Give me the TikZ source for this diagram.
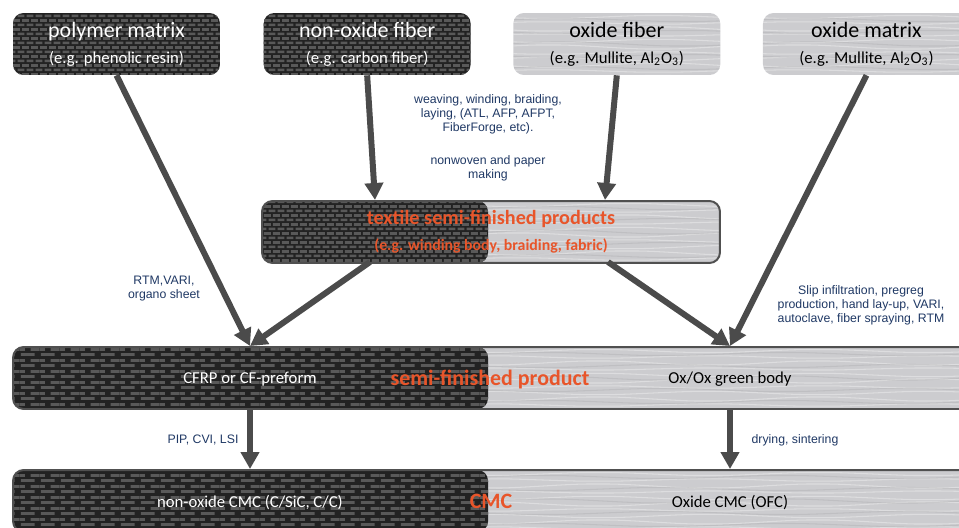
\documentclass[tikz,border=0pt]{standalone}
\usepackage{fontspec}
\setmainfont{Carlito}
\newfontfamily\arialfont{Liberation Sans}
\usetikzlibrary{arrows.meta, positioning, patterns, calc}
\definecolor{cmcdark}{HTML}{222222}
\definecolor{cmcweave}{HTML}{595959}
\definecolor{cmclight}{HTML}{CCCCCF}
\definecolor{cmcedge}{HTML}{505050}
\definecolor{cmcarrow}{HTML}{4B4B4B}
\definecolor{cmcorange}{HTML}{E8552A}
\definecolor{cmcnavy}{HTML}{1F3864}

% carbon weave, small and large
\pgfdeclarepatternformonly{weavefine}{\pgfpointorigin}{\pgfqpoint{5.1pt}{5.3pt}}{\pgfqpoint{5.1pt}{5.3pt}}{%
  \pgfpathrectangle{\pgfqpoint{0.3pt}{0.5pt}}{\pgfqpoint{3.9pt}{1.6pt}}%
  \pgfpathrectangle{\pgfqpoint{2.85pt}{3.15pt}}{\pgfqpoint{2.25pt}{1.6pt}}%
  \pgfpathrectangle{\pgfqpoint{0pt}{3.15pt}}{\pgfqpoint{1.65pt}{1.6pt}}%
  \pgfusepath{fill}}
\pgfdeclarepatternformonly{weavebig}{\pgfpointorigin}{\pgfqpoint{11.3pt}{6pt}}{\pgfqpoint{11.3pt}{6pt}}{%
  \pgfpathrectangle{\pgfqpoint{0.5pt}{0.6pt}}{\pgfqpoint{7.9pt}{1.7pt}}%
  \pgfpathrectangle{\pgfqpoint{6.15pt}{3.6pt}}{\pgfqpoint{5.15pt}{1.7pt}}%
  \pgfpathrectangle{\pgfqpoint{0pt}{3.6pt}}{\pgfqpoint{2.75pt}{1.7pt}}%
  \pgfusepath{fill}}

% brushed oxide fibres
\newcommand\fiberstreaks{%
  \foreach \k/\a in {4/1.5,10/-1.2,16/2,22/-1,28/1.6,34/-2,40/1.2,46/-1.6,52/2,58/-1.2,64/1.5}
    \draw[white, opacity=0.35, line width=0.6pt] (path picture bounding box.north west) ++(-20,\k)
      foreach \j in {1,...,5} { sin ++(55,\a) cos ++(55,-\a) sin ++(55,-\a) cos ++(55,\a) };
  \foreach \k/\a in {7/-1.5,19/1.5,31/-2,43/1.5,55/-1.5}
    \draw[cmcedge, opacity=0.1, line width=0.6pt] (path picture bounding box.north west) ++(-10,\k)
      foreach \j in {1,...,5} { sin ++(60,\a) cos ++(60,-\a) sin ++(60,-\a) cos ++(60,\a) };}
\newcommand\egsize{\fontsize{9.5}{11}\selectfont}

\tikzset{
  carbon/.style={fill=cmcdark, postaction={pattern=weavefine, pattern color=cmcweave}},
  carbonbig/.style={fill=cmcdark, postaction={pattern=weavebig, pattern color=cmcweave}},
  fiber/.style={fill=cmclight, path picture={\fiberstreaks}},
  splitbox/.style 2 args={fill=cmclight, draw=cmcedge, line width=0.04cm,
    path picture={\fiberstreaks
      \fill[#2] (path picture bounding box.south west) rectangle ([xshift=#1]path picture bounding box.north west);}},
  srcbox/.style={rectangle, rounded corners=6pt, minimum width=4.14cm, minimum height=1.24cm,
    inner sep=0pt, align=center, font=\fontsize{12.5}{14}\selectfont},
  bar/.style={rectangle, rounded corners=6pt, minimum width=19.24cm, minimum height=1.24cm, inner sep=0pt},
  bartext/.style={font=\fontsize{9.5}{11}\selectfont, inner sep=1pt},
  stage/.style={font=\bfseries\fontsize{12.5}{14}\selectfont, text=cmcorange, inner sep=1pt},
  note/.style={font=\arialfont\fontsize{7}{8}\selectfont, text=cmcnavy, align=center, inner sep=1pt},
  flow/.style={-{Triangle[length=0.34cm, width=0.36cm]}, line width=0.12cm, cmcarrow},
}

\begin{document}
\begin{tikzpicture}[x=0.02cm, y=-0.02cm]
  \useasboundingbox (0,0) rectangle (959,527);
  \begin{scope}
    \clip (0,0) rectangle (959,527);

    % raw materials
    \node[srcbox, carbon, text=white] (polymer) at (116.5,44) {polymer matrix\\[1pt]{\egsize (e.g. phenolic resin)}};
    \node[srcbox, carbon, text=white, right=0.86cm of polymer] (nonoxide) {non-oxide fiber\\[1pt]{\egsize (e.g. carbon fiber)}};
    \node[srcbox, fiber, text=black, right=0.84cm of nonoxide] (oxfiber) {oxide fiber\\[1pt]{\egsize (e.g. Mullite, Al\textsubscript{2}O\textsubscript{3})}};
    \node[srcbox, fiber, text=black, right=0.84cm of oxfiber] (oxmatrix) {oxide matrix\\[1pt]{\egsize (e.g. Mullite, Al\textsubscript{2}O\textsubscript{3})}};

    % textile stage
    \node[rectangle, rounded corners=6pt, minimum width=9.16cm, minimum height=1.24cm, inner sep=0pt,
      splitbox={4.52cm}{carbon}, align=center, text=cmcorange, font=\bfseries\fontsize{11.5}{13}\selectfont]
      (textile) at (491,232) {textile semi-finished products\\[2pt]{\fontsize{9}{11}\selectfont (e.g. winding body, braiding, fabric)}};

    % semi-finished and final stage
    \node[bar, splitbox={9.5cm}{carbonbig}] (semi) at (494,378) {};
    \node[bartext, text=white] (cfrp) at (250,379) {CFRP or CF-preform};
    \node[stage] (semilabel) at (490,379) {semi-finished product};
    \node[bartext, text=black] (oxox) at (730,379) {Ox/Ox green body};

    \node[bar, splitbox={9.5cm}{carbonbig}] (cmc) at (494,501) {};
    \node[bartext, text=white] (nonoxcmc) at (250,503) {non-oxide CMC (C/SiC, C/C)};
    \node[stage] (cmclabel) at (491,501) {CMC};
    \node[bartext, text=black] (oxcmc) at (730,503) {Oxide CMC (OFC)};

    % process notes
    \node[note] (textilenote) at (488,138) {weaving, winding, braiding,\\laying, (ATL, AFP, AFPT,\\FiberForge, etc).\\[11pt]nonwoven and paper\\making};
    \node[note] (rtmnote) at (164,289) {RTM,VARI,\\organo sheet};
    \node[note] (slipnote) at (861,305) {Slip infiltration, pregreg\\production, hand lay-up, VARI,\\autoclave, fiber spraying, RTM};
    \node[note] (pipnote) at (203,440) {PIP, CVI, LSI};
    \node[note] (drynote) at (795,440) {drying, sintering};

    \coordinate (tin1) at (375,200);
    \coordinate (tin2) at (605,200);
    \coordinate (tout1) at (370,262);
    \coordinate (tout2) at (608,262);

    \draw[flow] (polymer.south) -- (cfrp |- semi.north);
    \draw[flow] (nonoxide.south) -- (tin1);
    \draw[flow] (oxfiber.south) -- (tin2);
    \draw[flow] (oxmatrix.south) -- (oxox |- semi.north);
    \draw[flow] (tout1) -- (cfrp |- semi.north);
    \draw[flow] (tout2) -- (oxox |- semi.north);
    \draw[flow] (cfrp |- semi.south) -- (cfrp |- cmc.north);
    \draw[flow] (oxox |- semi.south) -- (oxox |- cmc.north);
  \end{scope}
\end{tikzpicture}
\end{document}
